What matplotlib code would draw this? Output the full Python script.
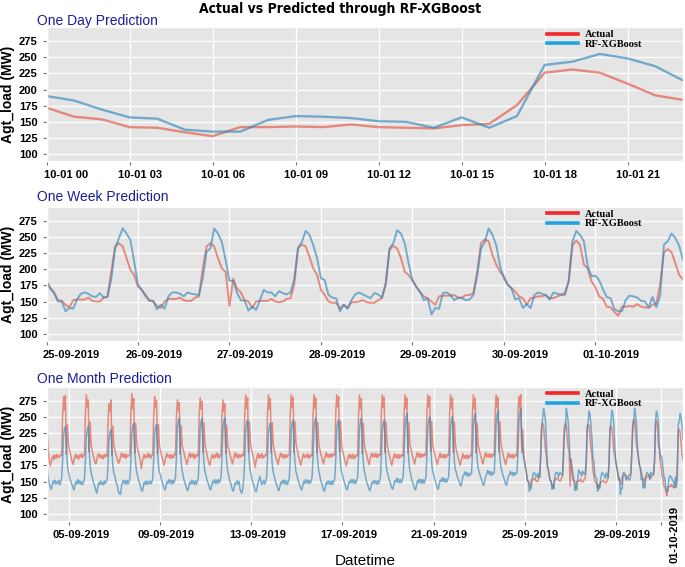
import numpy as np
import pandas as pd
import matplotlib
matplotlib.use('Agg')
import matplotlib.pyplot as plt
from matplotlib.lines import Line2D
from matplotlib.transforms import ScaledTranslation
from matplotlib import font_manager

# ---------------- data ----------------
day_actual = [172, 158, 154, 142, 141, 134, 128, 142, 142, 143, 142, 146,
              142, 141, 140, 145, 147, 176, 226, 231, 226, 209, 191, 184]
day_pred = [190, 183, 169, 157, 155, 138, 135, 135, 153, 159, 158, 156,
            151, 150, 141, 157, 141, 159, 238, 243, 255, 248, 236, 214]

# 25-09 .. 30-09 hourly
week_actual_pre = [
    182, 171, 164, 152, 151, 145, 141, 152, 153, 153, 153, 156, 151, 150, 150, 156, 158, 196, 235, 240, 235, 217, 199, 191,
    173, 168, 158, 151, 150, 143, 140, 150, 154, 154, 154, 156, 152, 151, 151, 156, 158, 201, 235, 240, 235, 217, 201, 196,
    143, 185, 170, 164, 152, 150, 140, 150, 151, 151, 151, 154, 150, 149, 150, 154, 155, 176, 232, 238, 235, 219, 201, 191,
    168, 160, 150, 148, 148, 139, 145, 140, 149, 149, 150, 152, 149, 148, 148, 152, 155, 176, 230, 236, 232, 217, 196, 191,
    183, 173, 165, 158, 155, 150, 145, 158, 159, 159, 159, 160, 156, 156, 160, 160, 163, 196, 240, 246, 243, 222, 207, 196,
    189, 176, 171, 165, 158, 155, 145, 155, 156, 158, 158, 160, 155, 155, 158, 160, 160, 181, 237, 244, 237, 207, 201, 181,
]
week_pred_pre = [
    180, 170, 163, 150, 150, 135, 140, 139, 153, 162, 164, 162, 158, 157, 163, 156, 157, 185, 232, 248, 263, 255, 245, 212,
    176, 168, 160, 152, 151, 138, 145, 139, 158, 164, 164, 162, 158, 164, 162, 161, 160, 186, 227, 232, 263, 255, 242, 214,
    182, 182, 163, 152, 151, 136, 142, 137, 152, 168, 164, 164, 158, 166, 163, 161, 164, 185, 233, 242, 259, 253, 237, 217,
    186, 183, 160, 156, 155, 135, 145, 139, 152, 161, 164, 161, 158, 155, 163, 161, 156, 178, 232, 240, 260, 255, 240, 209,
    183, 173, 165, 152, 155, 130, 140, 139, 163, 164, 160, 152, 156, 155, 152, 153, 160, 190, 232, 242, 263, 253, 237, 205,
    186, 176, 170, 153, 155, 140, 146, 140, 160, 164, 162, 160, 153, 164, 162, 161, 163, 181, 243, 259, 253, 243, 204, 189,
]

# 04-09 .. 24-09 hourly
month_actual_pre = [
    245, 222, 196, 182, 174, 180, 186, 190, 184, 191, 186, 192, 187, 190, 188, 192, 190, 252, 281, 260, 283, 192, 238, 210,
    200, 194, 188, 181, 176, 183, 189, 192, 186, 190, 185, 191, 188, 193, 187, 190, 191, 255, 284, 265, 276, 196, 242, 208,
    198, 192, 186, 180, 177, 184, 190, 193, 187, 191, 186, 190, 185, 192, 188, 191, 189, 248, 270, 258, 276, 190, 236, 206,
    199, 193, 187, 183, 178, 181, 188, 194, 188, 192, 187, 193, 186, 191, 189, 190, 192, 258, 286, 262, 278, 194, 240, 210,
    201, 195, 188, 182, 170, 180, 187, 192, 186, 190, 188, 194, 187, 192, 186, 191, 190, 252, 281, 264, 275, 193, 238, 207,
    198, 192, 186, 181, 175, 182, 189, 193, 188, 191, 186, 192, 186, 190, 187, 193, 191, 250, 276, 260, 272, 192, 236, 206,
    200, 194, 187, 182, 176, 183, 190, 194, 187, 192, 188, 193, 185, 191, 188, 192, 190, 254, 279, 262, 274, 195, 240, 208,
    199, 193, 186, 180, 175, 181, 188, 192, 186, 190, 187, 194, 188, 193, 186, 190, 191, 250, 276, 258, 270, 193, 237, 205,
    201, 195, 188, 183, 177, 184, 190, 195, 188, 192, 186, 192, 187, 191, 189, 193, 190, 256, 284, 263, 279, 196, 242, 210,
    200, 194, 187, 181, 172, 182, 189, 193, 186, 191, 187, 193, 186, 190, 188, 192, 191, 255, 284, 262, 278, 194, 241, 208,
    199, 193, 186, 182, 176, 183, 190, 194, 188, 192, 186, 191, 187, 192, 188, 190, 192, 256, 284, 264, 280, 195, 242, 209,
    201, 195, 187, 181, 175, 182, 188, 193, 187, 190, 188, 193, 186, 191, 187, 191, 190, 255, 284, 263, 279, 194, 241, 208,
    200, 194, 188, 183, 177, 184, 190, 195, 188, 192, 187, 192, 188, 193, 189, 192, 191, 257, 284, 265, 281, 196, 243, 210,
    198, 192, 186, 180, 174, 181, 188, 192, 186, 191, 186, 192, 185, 190, 187, 191, 190, 254, 284, 262, 278, 193, 240, 207,
    200, 195, 188, 182, 176, 183, 190, 194, 188, 192, 188, 194, 187, 192, 188, 192, 191, 256, 284, 264, 280, 195, 242, 209,
    199, 193, 187, 181, 175, 182, 189, 193, 187, 191, 186, 192, 186, 191, 188, 191, 190, 255, 284, 263, 279, 194, 241, 208,
    201, 195, 188, 183, 177, 184, 190, 195, 188, 193, 187, 193, 188, 192, 189, 193, 191, 257, 284, 265, 281, 196, 243, 210,
    200, 194, 187, 182, 176, 183, 189, 194, 187, 191, 187, 192, 186, 191, 188, 192, 190, 255, 284, 263, 279, 195, 242, 209,
    199, 193, 186, 181, 175, 182, 188, 193, 186, 190, 186, 191, 185, 190, 187, 191, 190, 254, 284, 262, 278, 194, 240, 207,
    200, 194, 188, 183, 177, 184, 190, 195, 188, 192, 188, 193, 187, 192, 188, 192, 191, 256, 284, 264, 280, 196, 242, 209,
    201, 195, 187, 182, 176, 183, 189, 194, 187, 191, 187, 192, 186, 191, 188, 192, 190, 255, 282, 263, 284, 195, 230, 195,
]
month_pred_pre = [
    178, 166, 153, 147, 141, 138, 144, 151, 147, 152, 146, 150, 147, 152, 145, 148, 156, 183, 222, 232, 235, 198, 176, 165,
    160, 152, 149, 145, 140, 137, 145, 150, 146, 153, 147, 151, 146, 150, 145, 149, 155, 182, 220, 230, 235, 197, 175, 164,
    158, 151, 147, 142, 136, 132, 140, 148, 145, 151, 146, 149, 145, 151, 147, 150, 154, 180, 218, 226, 230, 195, 173, 163,
    159, 150, 146, 141, 134, 131, 130, 142, 148, 152, 147, 151, 146, 152, 146, 150, 156, 185, 226, 236, 240, 200, 177, 165,
    160, 152, 148, 143, 137, 135, 141, 149, 146, 151, 145, 150, 147, 151, 146, 149, 155, 184, 224, 234, 238, 199, 176, 164,
    161, 153, 149, 144, 139, 137, 143, 150, 147, 153, 148, 152, 146, 152, 147, 151, 157, 188, 232, 244, 248, 204, 179, 166,
    160, 152, 148, 143, 138, 136, 142, 149, 146, 152, 147, 151, 145, 151, 146, 150, 156, 187, 231, 243, 248, 203, 178, 165,
    161, 153, 149, 145, 139, 137, 143, 150, 148, 153, 147, 152, 147, 153, 148, 151, 157, 188, 232, 244, 248, 204, 179, 166,
    160, 152, 148, 143, 137, 135, 141, 148, 146, 151, 146, 150, 138, 134, 132, 140, 155, 186, 230, 241, 245, 202, 177, 164,
    159, 151, 147, 142, 136, 134, 140, 148, 153, 158, 150, 145, 148, 152, 146, 150, 156, 185, 226, 236, 240, 200, 176, 164,
    160, 152, 148, 143, 138, 136, 142, 149, 147, 152, 147, 152, 146, 151, 145, 150, 156, 187, 230, 241, 245, 202, 178, 165,
    161, 153, 149, 144, 139, 137, 143, 150, 147, 153, 148, 152, 147, 152, 147, 151, 157, 188, 232, 244, 248, 204, 179, 166,
    160, 152, 148, 143, 137, 135, 141, 149, 146, 151, 146, 150, 145, 151, 146, 150, 156, 186, 230, 241, 245, 202, 177, 165,
    161, 153, 149, 144, 139, 137, 143, 150, 148, 153, 148, 153, 147, 152, 147, 151, 157, 188, 232, 244, 248, 204, 179, 166,
    160, 152, 148, 143, 138, 136, 142, 149, 147, 152, 147, 151, 146, 151, 146, 150, 156, 187, 230, 241, 245, 202, 178, 165,
    162, 154, 150, 145, 140, 138, 144, 151, 149, 155, 149, 154, 148, 153, 148, 152, 158, 190, 236, 249, 255, 208, 181, 167,
    161, 153, 149, 144, 139, 137, 143, 151, 148, 154, 148, 153, 147, 153, 147, 151, 157, 189, 234, 246, 250, 206, 180, 166,
    162, 154, 150, 145, 140, 138, 145, 152, 150, 156, 150, 155, 149, 154, 149, 153, 158, 190, 234, 246, 250, 207, 181, 168,
    165, 158, 154, 150, 145, 143, 150, 158, 160, 165, 160, 164, 158, 163, 159, 162, 162, 192, 238, 250, 255, 210, 184, 170,
    166, 160, 156, 151, 146, 144, 151, 158, 161, 167, 162, 166, 160, 165, 160, 163, 163, 194, 240, 254, 260, 212, 186, 172,
    167, 160, 156, 151, 146, 144, 152, 159, 160, 166, 161, 164, 159, 164, 160, 163, 163, 195, 242, 256, 263, 215, 200, 185,
]

yticks = [100, 125, 150, 175, 200, 225, 250, 275]
month_tick_dates = ['2019-09-05', '2019-09-09', '2019-09-13', '2019-09-17',
                    '2019-09-21', '2019-09-25', '2019-09-29', '2019-10-01']
month_tick_labels = ['05-09-2019', '09-09-2019', '13-09-2019', '17-09-2019',
                     '21-09-2019', '25-09-2019', '29-09-2019', '']

week_actual = week_actual_pre + day_actual
week_pred = week_pred_pre + day_pred
month_actual = month_actual_pre + week_actual
month_pred = month_pred_pre + week_pred

t_day = pd.date_range('2019-10-01 00:00', periods=len(day_actual), freq='h')
t_week = pd.date_range('2019-09-25 00:00', periods=len(week_actual), freq='h')
t_month = pd.date_range('2019-09-04 00:00', periods=len(month_actual), freq='h')

# ---------------- style ----------------
plt.style.use('ggplot')
fonts = font_manager.fontManager.ttflist
names = {f.name for f in fonts}
SANS = 'Liberation Sans'
plt.rcParams['font.family'] = [SANS, 'DejaVu Sans']

title_kw = dict(family=[SANS, 'DejaVu Sans'], fontsize=10.0)
if 'Liberation Sans Narrow' in names:
    title_kw = dict(family=['Liberation Sans Narrow', 'DejaVu Sans'], fontsize=12.5)
elif any(f.name == 'DejaVu Sans' and f.stretch == 'condensed' for f in fonts):
    title_kw = dict(family=['DejaVu Sans'], fontstretch='condensed', fontsize=10.0)

W, H = 685, 567
fig = plt.figure(figsize=(W / 100, H / 100), dpi=100)

def px_axes(top, bottom, left=46.5, right=683):
    return fig.add_axes([left / W, 1 - bottom / H, (right - left) / W, (bottom - top) / H])

C_ACT = '#E24A33'
C_PRED = '#348ABD'

def style_axes(ax):
    ax.set_facecolor('#E5E5E5')
    ax.set_ylim(89, 296)
    ax.set_yticks(yticks)
    ax.grid(True, color='white', linewidth=0.9)
    ax.tick_params(axis='both', labelsize=8, labelcolor='black', color='#777777', length=3)
    for lab in ax.get_yticklabels():
        lab.set_fontweight('bold')
    ax.set_ylabel('Agt_load (MW)', fontsize=10, fontweight='bold', color='black', labelpad=3)
    handles = [Line2D([], [], color='#F02828', lw=2.6),
               Line2D([], [], color='#20A2E2', lw=2.6)]
    ax.legend(handles, ['Actual', 'RF-XGBoost'], loc='upper right',
              bbox_to_anchor=(0.95, 1.05), frameon=False, handlelength=3.0,
              handletextpad=0.6, labelspacing=0.0,
              prop={'family': 'Liberation Serif', 'weight': 'bold', 'size': 7.5})

def shift_xlabels(ax, dx, dx_first):
    for i, lab in enumerate(ax.get_xticklabels()):
        lab.set_fontweight('bold')
        d = dx_first if i == 0 else dx
        lab.set_transform(lab.get_transform() + ScaledTranslation(d / 100, 0, fig.dpi_scale_trans))

# Day
ax1 = px_axes(27.4, 161.4)
ax1.plot(t_day, day_actual, color=C_ACT, alpha=0.6, lw=1.7)
ax1.plot(t_day, day_pred, color=C_PRED, alpha=0.65, lw=1.7)
ax1.set_xlim(t_day[0], t_day[-1])
day_ticks = t_day[::3]
ax1.set_xticks(day_ticks)
ax1.set_xticklabels([t.strftime('%m-%d %H') for t in day_ticks])
style_axes(ax1)
shift_xlabels(ax1, 10, 20)

# Week
ax2 = px_axes(207, 341)
ax2.plot(t_week, week_actual, color=C_ACT, alpha=0.6, lw=1.4)
ax2.plot(t_week, week_pred, color=C_PRED, alpha=0.65, lw=1.4)
ax2.set_xlim(t_week[0], t_week[-1])
week_ticks = t_week[::24]
ax2.set_xticks(week_ticks)
ax2.set_xticklabels([t.strftime('%d-%m-%Y') for t in week_ticks])
style_axes(ax2)
shift_xlabels(ax2, 16, 25)

# Month
ax3 = px_axes(387, 521)
ax3.plot(t_month, month_actual, color=C_ACT, alpha=0.6, lw=1.1)
ax3.plot(t_month, month_pred, color=C_PRED, alpha=0.65, lw=1.1)
ax3.set_xlim(t_month[0], t_month[-1])
ax3.set_xticks(pd.to_datetime(month_tick_dates))
ax3.set_xticklabels(month_tick_labels)
style_axes(ax3)
shift_xlabels(ax3, 6, 12)
ax3.set_xlabel('Datetime', fontsize=11, color='black', labelpad=10)

fig.text(675 / W, 1 - 506 / H, '01-10-2019', rotation=90, ha='center', va='top',
         fontsize=8, fontweight='bold', color='black')

# Titles
fig.text(340 / W, 1 - 9 / H, 'Actual vs Predicted through RF-XGBoost', ha='center',
         va='center', fontweight='bold', color='black', **title_kw)
for ytxt, txt in [(21, 'One Day Prediction'), (197, 'One Week Prediction'),
                  (379, 'One Month Prediction')]:
    fig.text(37 / W, 1 - ytxt / H, txt, ha='left', va='center', fontsize=10,
             color='#1C1C9A')

fig.savefig('out.png', dpi=100)
